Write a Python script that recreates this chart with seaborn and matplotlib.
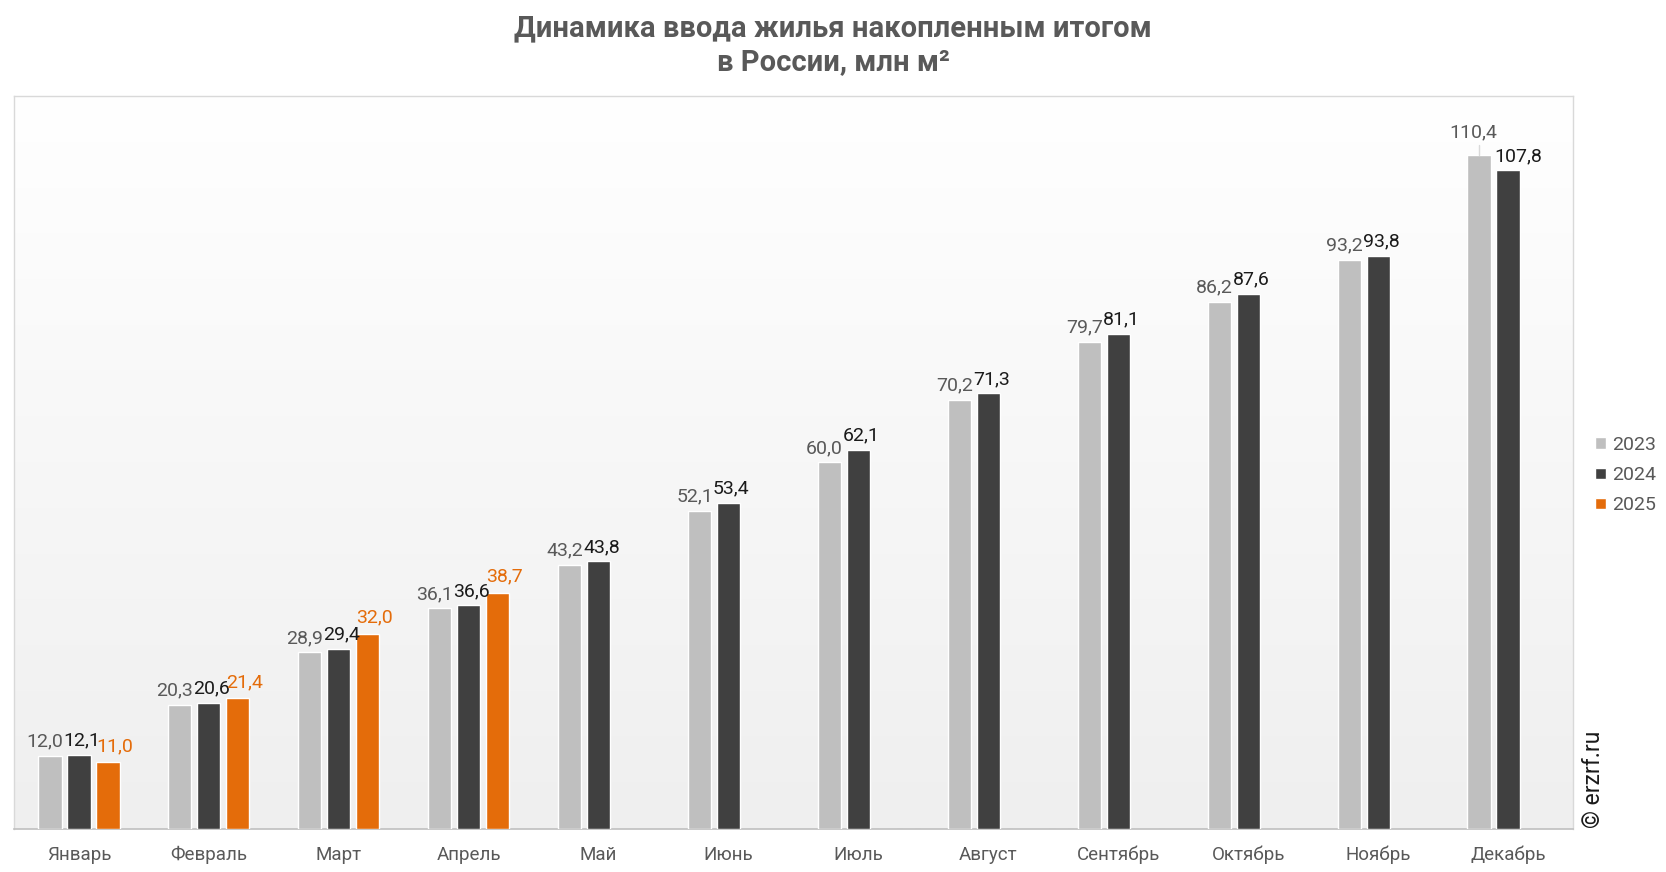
import numpy as np
import pandas as pd
import seaborn as sns
import matplotlib.pyplot as plt
from matplotlib.patches import Patch

months = ['Январь', 'Февраль', 'Март', 'Апрель', 'Май', 'Июнь',
          'Июль', 'Август', 'Сентябрь', 'Октябрь', 'Ноябрь', 'Декабрь']
years = ['2023', '2024', '2025']
v2023 = [12.0, 20.3, 28.9, 36.1, 43.2, 52.1, 60.0, 70.2, 79.7, 86.2, 93.2, 110.4]
v2024 = [12.1, 20.6, 29.4, 36.6, 43.8, 53.4, 62.1, 71.3, 81.1, 87.6, 93.8, 107.8]
v2025 = [11.0, 21.4, 32.0, 38.7]

colors = {'2023': '#BFBFBF', '2024': '#404040', '2025': '#E46C0A'}
label_colors = {'2023': '#595959', '2024': '#1a1a1a', '2025': '#E46C0A'}
# labels are pushed apart sideways so they do not collide (points)
label_shift = {'2023': -3.5, '2024': 2.0, '2025': 5.0}

rows = []
for yr, vals in zip(years, [v2023, v2024, v2025]):
    for m, v in zip(months, vals):
        rows.append({'month': m, 'year': yr, 'value': v})
df = pd.DataFrame(rows)

sns.set_style('white')
plt.rcParams['font.family'] = ['Roboto', 'DejaVu Sans']

fig = plt.figure(figsize=(16.66, 8.72), dpi=100)
ax = fig.add_axes([0.0084, 0.0493, 0.9358, 0.8407])

sns.barplot(data=df, x='month', y='value', hue='year', order=months,
            hue_order=years, palette=colors, width=0.67, gap=0.2,
            saturation=1, errorbar=None, legend=False, ax=ax, zorder=3)

# gradient background
grad = np.linspace(1, 0, 256).reshape(-1, 1)
ax.imshow(grad, extent=[-0.5, 11.5, 0, 120], aspect='auto', zorder=0,
          cmap=plt.matplotlib.colors.LinearSegmentedColormap.from_list(
              'bg', ['#FFFFFF', '#EFEFEF']), vmin=0, vmax=1, origin='lower')
ax.set_xlim(-0.5, 11.5)
ax.set_ylim(0, 120)

# value labels
slot = 0.67 / 3
for i, yr in enumerate(years):
    vals = [v2023, v2024, v2025][i]
    for j, v in enumerate(vals):
        x = j + (i - 1) * slot
        y = v
        dx = label_shift[yr]
        dy = 5 if yr == '2025' else 4
        if j == 11:
            if yr == '2023':
                ax.plot([x, x], [v, v + 1.6], color='#D9D9D9', lw=1, zorder=4)
                y = v + 1.3
                dx = -4
            else:
                dx = 7
        ax.annotate(f'{v:.1f}'.replace('.', ','), (x, y), xytext=(dx, dy),
                    textcoords='offset points', ha='center', va='bottom',
                    fontsize=14, color=label_colors[yr], zorder=5)

ax.set_xlabel('')
ax.set_ylabel('')
ax.set_yticks([])
ax.set_xticks(range(12))
ax.set_xticklabels(months, fontsize=13.5, color='#595959')
ax.tick_params(axis='x', which='major', length=0, pad=12)
ax.set_xticks(np.arange(-0.5, 12, 1), minor=True)
ax.tick_params(axis='x', which='minor', length=6, color='#BFBFBF', width=1)

for s in ['top', 'left', 'right']:
    ax.spines[s].set_color('#D9D9D9')
    ax.spines[s].set_linewidth(1)
ax.spines['bottom'].set_color('#BFBFBF')
ax.spines['bottom'].set_linewidth(1.2)

handles = [Patch(facecolor=colors[y], label=y) for y in years]
leg = fig.legend(handles=handles, loc='center left', bbox_to_anchor=(0.947, 0.455),
                 frameon=False, fontsize=14, handlelength=0.55, handleheight=0.55,
                 handletextpad=0.3, labelspacing=0.62)
for t in leg.get_texts():
    t.set_color('#595959')

fig.text(0.5, 0.984, 'Динамика ввода жилья накопленным итогом\nв России, млн м²',
         ha='center', va='top', fontsize=21, fontweight='bold', color='#595959',
         linespacing=1.3)

fig.text(0.9565, 0.05, '© erzrf.ru', rotation=90, ha='center', va='bottom',
         fontsize=16.5, color='#1a1a1a')

fig.savefig('out.png', dpi=100)
